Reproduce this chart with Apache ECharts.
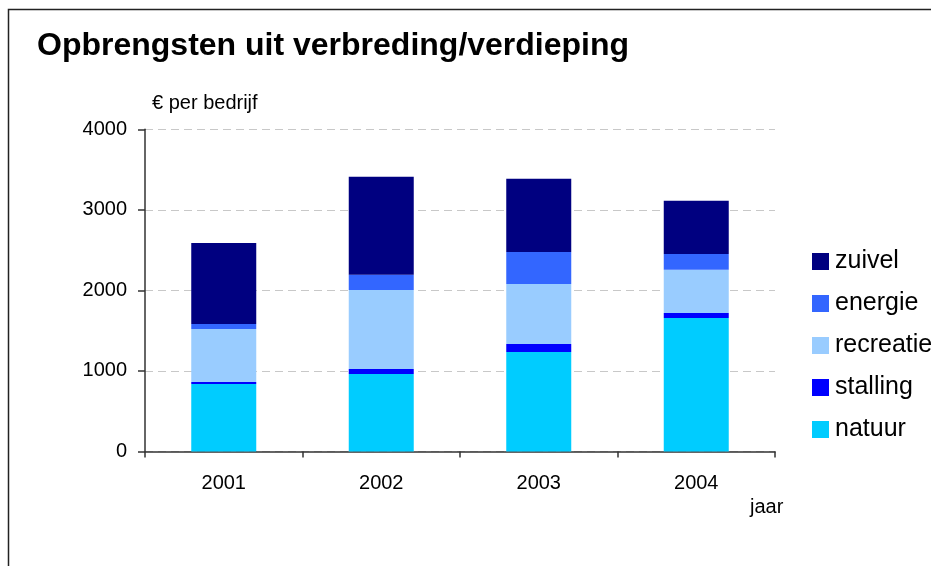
<!DOCTYPE html>
<html>
<head>
<meta charset="utf-8">
<script src="https://cdn.jsdelivr.net/npm/echarts@6/dist/echarts.min.js"></script>
<style>html,body{margin:0;padding:0;background:#fff}#c{width:931px;height:566px}</style>
</head>
<body>
<div id="c"></div>
<script>
var categories = ['2001', '2002', '2003', '2004'];
var natuur    = [838, 963, 1236, 1658];
var stalling  = [25, 62, 99, 62];
var recreatie = [659, 981, 746, 535];
var energie   = [62, 187, 397, 198];
var zuivel    = [1006, 1217, 907, 659];
var yTicks = [0, 1000, 2000, 3000, 4000];

var seriesDefs = [
  {name: 'natuur', data: natuur, color: '#00CCFF'},
  {name: 'stalling', data: stalling, color: '#0000FF'},
  {name: 'recreatie', data: recreatie, color: '#99CCFF'},
  {name: 'energie', data: energie, color: '#3366FF'},
  {name: 'zuivel', data: zuivel, color: '#000080'}
];

var chart = echarts.init(document.getElementById('c'), null, {renderer: 'canvas'});
var font = 'Liberation Sans, Arial, sans-serif';
chart.setOption({
  animation: false,
  backgroundColor: '#fff',
  textStyle: {fontFamily: font},
  title: {
    text: 'Opbrengsten uit verbreding/verdieping',
    left: 32, top: 25,
    textStyle: {fontSize: 32, fontWeight: 'bold', color: '#000', fontFamily: font}
  },
  legend: {
    orient: 'vertical',
    left: 812, top: 249,
    padding: 0,
    itemWidth: 17, itemHeight: 17, itemGap: 17,
    icon: 'rect',
    data: ['zuivel', 'energie', 'recreatie', 'stalling', 'natuur'],
    textStyle: {fontSize: 25, color: '#000', lineHeight: 25, fontFamily: font, padding: [0, 0, 0, 1]}
  },
  grid: {left: 145, right: 156, top: 129.3, bottom: 114.5, containLabel: false},
  xAxis: {
    type: 'category',
    data: categories,
    axisLine: {lineStyle: {color: '#333', width: 1.5}},
    axisTick: {show: true, length: 6, lineStyle: {color: '#333', width: 1.5}},
    axisLabel: {fontSize: 20, color: '#000', margin: 22, fontFamily: font}
  },
  yAxis: {
    type: 'value',
    min: yTicks[0], max: yTicks[yTicks.length - 1], interval: 1000,
    axisLine: {show: true, lineStyle: {color: '#333', width: 1.5}},
    axisTick: {show: true, length: 7, lineStyle: {color: '#333', width: 1.5}},
    axisLabel: {fontSize: 20, color: '#000', margin: 18, fontFamily: font,
      formatter: function (v) { return String(v); }},
    splitLine: {show: true, lineStyle: {color: '#c8c8c8', type: [8, 5], width: 1}}
  },
  graphic: [
    {type: 'rect', shape: {x: 8.5, y: 9.5, width: 1000, height: 1000}, style: {fill: 'none', stroke: '#222', lineWidth: 1.5}, z: 100},
    {type: 'text', left: 152, top: 93, style: {text: '€ per bedrijf', fontSize: 20, fill: '#000', font: '20px Liberation Sans, Arial, sans-serif'}},
    {type: 'text', left: 750, top: 497, style: {text: 'jaar', fontSize: 20, fill: '#000', font: '20px Liberation Sans, Arial, sans-serif'}}
  ],
  series: seriesDefs.map(function (s) {
    return {
      name: s.name, type: 'bar', stack: 'total', data: s.data,
      barWidth: 65,
      itemStyle: {color: s.color},
      emphasis: {disabled: true}
    };
  })
});
</script>
</body>
</html>
